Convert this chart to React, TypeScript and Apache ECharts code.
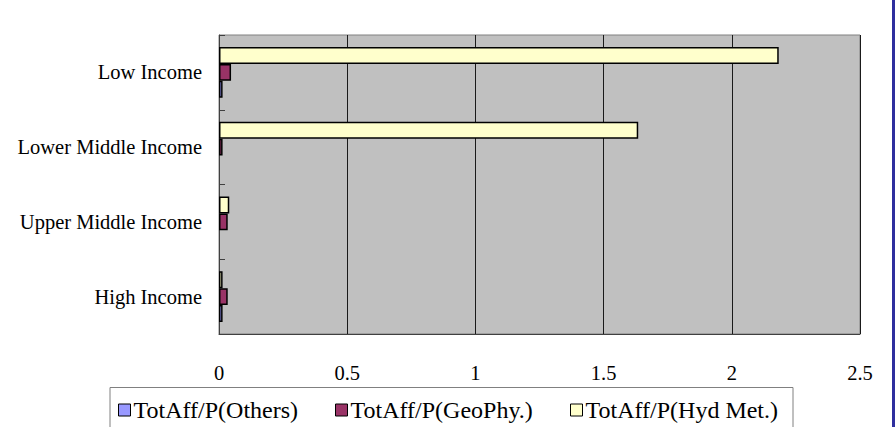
import React, { useEffect, useRef } from "react";
import * as echarts from "echarts";

// Income groups, listed bottom-to-top as the category axis draws them
const categories = ["High Income", "Upper Middle Income", "Lower Middle Income", "Low Income"];

// Total affected per population, by disaster type
const others = [0.014, 0, 0, 0.014];
const geoPhy = [0.034, 0.034, 0.014, 0.047];
const hydMet = [0.014, 0.04, 1.635, 2.183];

const seriesNames = ["TotAff/P(Others)", "TotAff/P(GeoPhy.)", "TotAff/P(Hyd Met.)"];
const seriesColors = ["#9999ff", "#993366", "#ffffcc"];

const FONT = "Liberation Serif";

export default function App() {
  const ref = useRef<HTMLDivElement>(null);

  useEffect(() => {
    if (!ref.current) return;
    const chart = echarts.init(ref.current, null, { renderer: "svg" });
    const values = [others, geoPhy, hydMet];
    const legendLeft = [118, 335, 570];

    // Bars in a group stack top-down in series order, so Hyd Met goes first.
    const drawOrder = [2, 1, 0];

    chart.setOption({
      animation: false,
      backgroundColor: "#ffffff",
      grid: {
        left: 219,
        top: 35,
        right: 35,
        bottom: 93,
        show: true,
        backgroundColor: "#c0c0c0",
        borderColor: "#808080",
        borderWidth: 1,
      },
      xAxis: {
        type: "value",
        min: 0,
        max: 2.5,
        interval: 0.5,
        axisLine: { show: true, lineStyle: { color: "#404040", width: 1 } },
        axisTick: { show: false },
        splitLine: { show: true, lineStyle: { color: "#1a1a1a", width: 1 } },
        axisLabel: {
          margin: 28,
          color: "#000",
          fontFamily: FONT,
          fontSize: 20.5,
        },
      },
      yAxis: {
        type: "category",
        data: categories,
        axisLine: { show: true, lineStyle: { color: "#404040", width: 1 } },
        axisTick: { show: true, inside: true, length: 6, lineStyle: { color: "#404040" } },
        axisLabel: {
          margin: 17,
          color: "#000",
          fontFamily: FONT,
          fontSize: 20.5,
        },
      },
      legend: seriesNames.map((name, i) => ({
        data: [name],
        left: legendLeft[i],
        top: 398,
        padding: 0,
        itemWidth: 12,
        itemHeight: 12,
        itemGap: 0,
        icon: "rect",
        itemStyle: { borderColor: "#000", borderWidth: 1 },
        textStyle: { color: "#000", fontFamily: FONT, fontSize: 24, padding: [0, 0, 0, -2] },
      })),
      graphic: [
        {
          type: "rect",
          shape: { x: 110, y: 387.5, width: 683, height: 60 },
          style: { fill: "#ffffff", stroke: "#808080", lineWidth: 1 },
          z: -1,
        },
        {
          type: "rect",
          shape: { x: 892, y: 0, width: 3, height: 427 },
          style: { fill: "#2f2f9e" },
        },
      ],
      series: drawOrder.map((i) => ({
        name: seriesNames[i],
        type: "bar",
        data: values[i].map((v) => (v === 0 ? { value: v, itemStyle: { borderWidth: 0 } } : v)),
        barGap: "0%",
        barCategoryGap: "32%",
        itemStyle: { color: seriesColors[i], borderColor: "#000", borderWidth: 1.5 },
      })),
    });

    return () => chart.dispose();
  }, []);

  return <div ref={ref} style={{ width: 895, height: 427, position: "absolute", left: 0, top: 0 }} />;
}
